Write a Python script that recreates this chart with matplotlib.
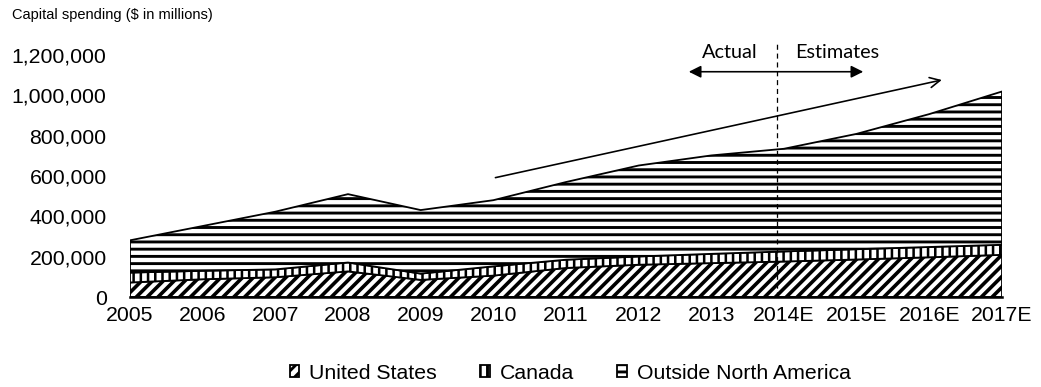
import matplotlib
matplotlib.use("Agg")
import matplotlib.pyplot as plt
import numpy as np
from matplotlib.patches import Patch, FancyArrowPatch
from matplotlib.ticker import FuncFormatter

# capital spending, $ millions
years = ["2005", "2006", "2007", "2008", "2009", "2010", "2011", "2012",
         "2013", "2014E", "2015E", "2016E", "2017E"]
united_states = [72000, 88000, 98000, 127000, 85000, 106000, 144000, 160000,
                 168000, 176000, 186000, 197000, 209000]
canada = [49000, 42000, 39000, 44000, 31000, 46000, 41000, 41000,
          46000, 50000, 51000, 51000, 50000]
outside_na = [160000, 222000, 286000, 339000, 315000, 328000, 385000, 451000,
              488000, 509000, 572000, 659000, 760000]
yticks = [0, 200000, 400000, 600000, 800000, 1000000, 1200000]

# actual / estimate split and trend arrow (x in year index, y in $ millions)
split_x = 8.9
trend_start = (4.98, 588000)
trend_end = (11.22, 1080000)

DPI = 130
plt.rcParams["font.family"] = ["Liberation Sans", "DejaVu Sans"]

fig = plt.figure(figsize=(1041.01 / DPI, 387.01 / DPI), dpi=DPI)
ax = fig.add_axes([130 / 1041, 90 / 387, 872 / 1041, 242 / 387])

x = np.arange(len(years))
us = np.array(united_states)
ca = us + np.array(canada)
tot = ca + np.array(outside_na)

# hatch width is picked up when each artist is created
plt.rcParams["hatch.linewidth"] = 2.0
ax.fill_between(x, 0, us, facecolor="white", edgecolor="black",
                hatch="////", linewidth=1.0)
plt.rcParams["hatch.linewidth"] = 1.4
ax.fill_between(x, us, ca, facecolor="white", edgecolor="black",
                hatch="|||", linewidth=1.0)
plt.rcParams["hatch.linewidth"] = 1.6
ax.fill_between(x, ca, tot, facecolor="white", edgecolor="black",
                hatch="---", linewidth=1.0)

ax.set_xlim(0, len(years) - 1)
ax.set_ylim(0, 1200000)
ax.set_xticks(x)
ax.set_xticklabels(years)
ax.set_yticks(yticks)
ax.yaxis.set_major_formatter(FuncFormatter(lambda v, p: f"{int(v):,}"))
ax.tick_params(axis="y", length=0, pad=13, labelsize=11.8)
ax.tick_params(axis="x", length=0, pad=5, labelsize=11.8)
for side in ["left", "right", "top"]:
    ax.spines[side].set_visible(False)
ax.spines["bottom"].set_linewidth(1.4)
ax.patch.set_visible(False)

# actual vs estimates marker
ax.plot([split_x, split_x], [0, 1260000], color="black", linestyle=(0, (4, 3)),
        linewidth=0.7, clip_on=False)
ax.add_patch(FancyArrowPatch((7.64, 1117000), (10.14, 1117000),
                             arrowstyle="<|-|>", mutation_scale=14,
                             color="black", linewidth=0.9, clip_on=False))
ax.text(8.25, 1212000, "Actual", ha="center", va="center",
        fontsize=11, family=["Lato", "DejaVu Sans"])
ax.text(9.73, 1212000, "Estimates", ha="center", va="center",
        fontsize=11, family=["Lato", "DejaVu Sans"])

# growth trend
ax.add_patch(FancyArrowPatch(trend_start, trend_end, arrowstyle="->",
                             mutation_scale=14, color="black",
                             linewidth=0.9, clip_on=False))

fig.text(12 / 1041, 1 - 15 / 387, "Capital spending ($ in millions)",
         fontsize=8.1, ha="left", va="center")

handles = [Patch(facecolor="white", edgecolor="black", hatch="////", label="United States"),
           Patch(facecolor="white", edgecolor="black", hatch="|||", label="Canada"),
           Patch(facecolor="white", edgecolor="black", hatch="---", label="Outside North America")]
fig.legend(handles=handles, loc="center", bbox_to_anchor=(570 / 1041, 1 - 373 / 387),
           ncol=3, frameon=False, fontsize=11.8, handlelength=0.45,
           handleheight=0.45, handletextpad=0.45, columnspacing=2.05)

fig.savefig("out.png", dpi=DPI)
